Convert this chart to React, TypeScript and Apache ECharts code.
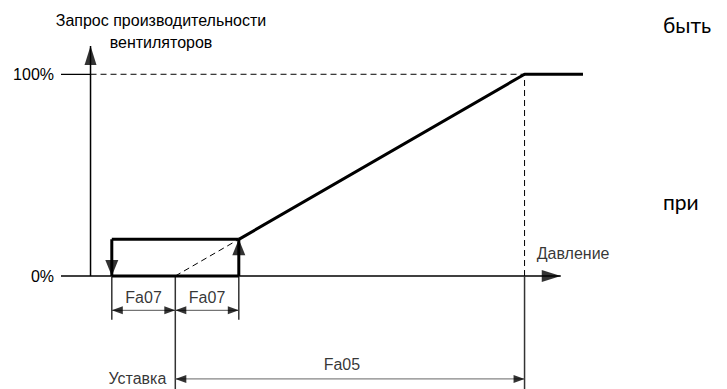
import React, { useEffect, useRef } from "react";
import * as echarts from "echarts";

// ---- data (pressure in units of Fa07 relative to setpoint, request in %) ----
const setpoint = 0;
const fa07 = 1;
const fa05 = 5.5;
const plateauEnd = 6.42;
const hystTop = (fa07 / fa05) * 100; // request at setpoint + Fa07
const yTicks = [0, 100];
const yAxisX = -1.335;
const yAxisTop = 114;
const xAxisStart = -1.8;
const xAxisEnd = 6.07;
const dimFa07Y = -17;
const dimFa05Y = -51;
const extShortY = -21.7;
const extLongY = -56;

const curve: [number, number][] = [
  [setpoint + fa07, hystTop],
  [setpoint + fa05, 100],
  [plateauEnd, 100],
];
const hysteresis: [number, number][][] = [
  [[setpoint - fa07, 0], [setpoint + fa07, 0]],
  [[setpoint + fa07, 0], [setpoint + fa07, hystTop]],
  [[setpoint + fa07, hystTop], [setpoint - fa07, hystTop]],
  [[setpoint - fa07, hystTop], [setpoint - fa07, 0]],
];

const FONT = "Liberation Sans, Arial, sans-serif";

function seg(pts: [number, number][], width: number, color: string, type: any = "solid", z = 2) {
  return {
    type: "line",
    data: pts,
    symbol: "none",
    silent: true,
    z,
    lineStyle: { width, color, type, cap: "butt" },
  };
}

// arrowhead whose tip sits on the data point
function arrow(x: number, y: number, dir: "up" | "down" | "left" | "right", w: number, h: number) {
  const rot = { up: 0, down: 180, left: 90, right: -90 }[dir];
  const off = {
    up: [0, h / 2],
    down: [0, -h / 2],
    left: [h / 2, 0],
    right: [-h / 2, 0],
  }[dir];
  return { value: [x, y], symbolRotate: rot, symbolSize: [w, h], symbolOffset: off };
}

export default function App() {
  const ref = useRef<HTMLDivElement>(null);
  useEffect(() => {
    if (!ref.current) return;
    const chart = echarts.init(ref.current, undefined, { renderer: "svg" });

    const arrows = [
      arrow(yAxisX, yAxisTop, "up", 12, 19),
      arrow(xAxisEnd, 0, "right", 12, 19),
      arrow(setpoint + fa07, hystTop, "up", 13, 16),
      arrow(setpoint - fa07, 0, "down", 13, 16),
      arrow(setpoint - fa07, dimFa07Y, "left", 8, 11),
      arrow(setpoint, dimFa07Y, "right", 8, 11),
      arrow(setpoint, dimFa07Y, "left", 8, 11),
      arrow(setpoint + fa07, dimFa07Y, "right", 8, 11),
      arrow(setpoint, dimFa05Y, "left", 8, 11),
      arrow(setpoint + fa05, dimFa05Y, "right", 8, 11),
    ];

    const labelStyle = { color: "#000", fontFamily: FONT, fontSize: 16 };
    const labels = [
      { value: [setpoint - fa07 / 2, dimFa07Y], label: { formatter: "Fa07", position: "top", distance: 5 } },
      { value: [setpoint + fa07 / 2, dimFa07Y], label: { formatter: "Fa07", position: "top", distance: 5 } },
      { value: [setpoint + fa05 / 2, dimFa05Y], label: { formatter: "Fa05", position: "top", distance: 6, offset: [-8, 0] } },
      { value: [setpoint, dimFa05Y], label: { formatter: "Уставка", position: "left", distance: 9 } },
      { value: [xAxisEnd, 0], label: { formatter: "Давление", position: [-24, -31] } },
    ];

    const option: any = {
      animation: false,
      grid: { left: 61, top: 42, width: 527.05, height: 348.47 },
      xAxis: {
        type: "value",
        min: -1.8,
        max: 6.5,
        show: false,
      },
      yAxis: {
        type: "value",
        min: -56,
        max: 116,
        axisLine: { show: false },
        axisTick: { show: false },
        splitLine: { show: false },
        axisLabel: {
          customValues: yTicks,
          formatter: "{value}%",
          margin: 7,
          ...labelStyle,
        },
      },
      graphic: [
        {
          type: "text",
          x: 161,
          y: 9,
          style: {
            text: "Запрос производительности\nвентиляторов",
            textAlign: "center",
            font: `16px ${FONT}`,
            lineHeight: 22,
            fill: "#000",
          },
        },
        { type: "text", x: 663, y: 14, style: { text: "быть", font: "21px Lato, sans-serif", fill: "#000" } },
        { type: "text", x: 663, y: 191, style: { text: "при", font: "21px Lato, sans-serif", fill: "#000" } },
      ],
      series: [
        // axes
        seg([[xAxisStart, 0], [xAxisEnd, 0]], 1.5, "#000"),
        seg([[yAxisX, 0], [yAxisX, yAxisTop]], 1.5, "#000"),
        seg([[xAxisStart, 100], [yAxisX, 100]], 1.2, "#000"),
        // dashed guides
        seg([[yAxisX, 100], [setpoint + fa05, 100]], 1, "#000", [6, 4]),
        seg([[setpoint + fa05, 0], [setpoint + fa05, 100]], 1, "#000", [6, 4]),
        seg([[setpoint, 0], [setpoint + fa07, hystTop]], 1, "#000", [6, 4]),
        // extension lines
        seg([[setpoint - fa07, 0], [setpoint - fa07, extShortY]], 1.5, "#333"),
        seg([[setpoint + fa07, 0], [setpoint + fa07, extShortY]], 1.5, "#333"),
        seg([[setpoint, 0], [setpoint, extLongY]], 1.5, "#333"),
        seg([[setpoint + fa05, 0], [setpoint + fa05, extLongY]], 1.5, "#333"),
        // dimension lines
        seg([[setpoint - fa07, dimFa07Y], [setpoint + fa07, dimFa07Y]], 1, "#555"),
        seg([[setpoint, dimFa05Y], [setpoint + fa05, dimFa05Y]], 1, "#666"),
        // control curve + hysteresis
        ...hysteresis.map((h) => seg(h, 3, "#000", "solid", 3)),
        seg(curve, 3, "#000", "solid", 3),
        {
          type: "scatter",
          data: arrows,
          symbol: "triangle",
          itemStyle: { color: "#000" },
          silent: true,
          z: 5,
        },
        {
          type: "scatter",
          data: labels,
          symbolSize: 0,
          silent: true,
          z: 6,
          label: { show: true, ...labelStyle },
        },
      ],
    };
    chart.setOption(option);
    return () => chart.dispose();
  }, []);
  return (
    <div
      ref={ref}
      style={{ position: "fixed", left: 0, top: 0, width: 727, height: 389, background: "#fff" }}
    />
  );
}
